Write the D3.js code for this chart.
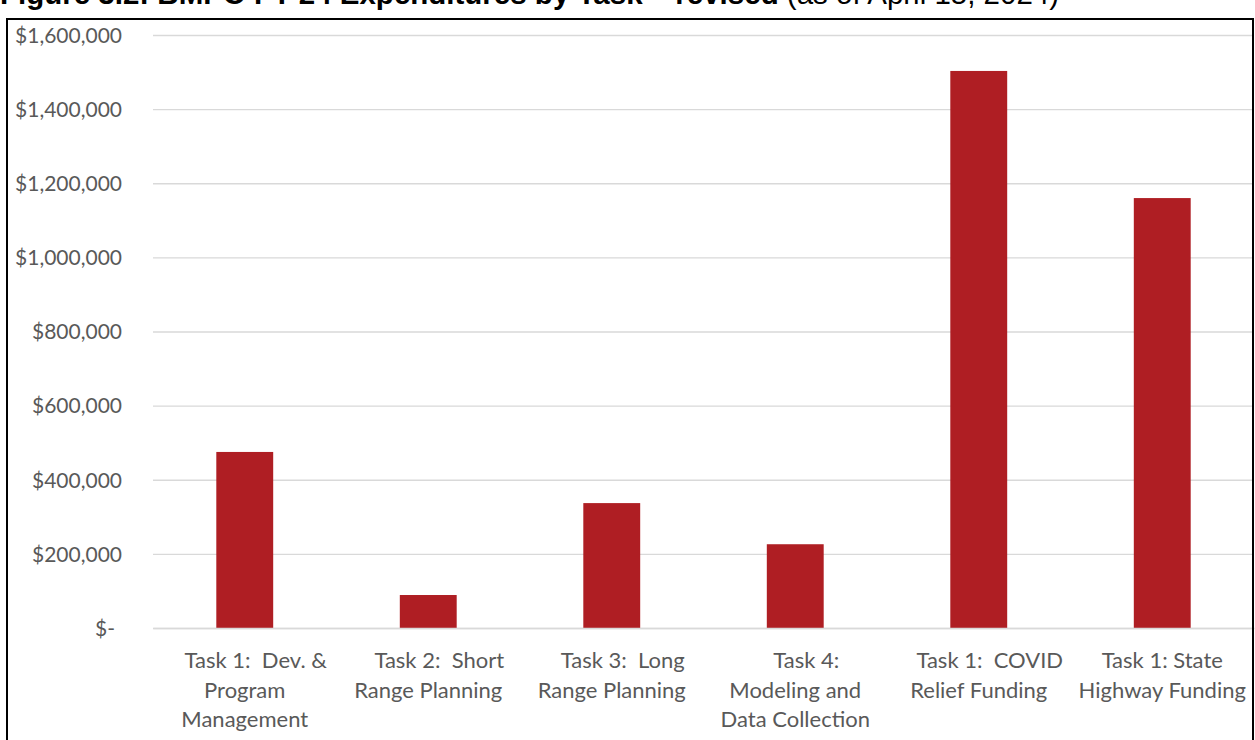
<!DOCTYPE html>
<html>
<head>
<meta charset="utf-8">
<script src="https://cdn.jsdelivr.net/npm/d3@7"></script>
<style>
  html, body { margin: 0; padding: 0; background: #fff; }
  svg { display: block; }
  text { white-space: pre; }
</style>
</head>
<body>
<svg id="chart" width="1255" height="740"></svg>
<script>
// Expenditures by task
const categories = [
  ["Task 1:  Dev. &", "Program", "Management"],
  ["Task 2:  Short", "Range Planning"],
  ["Task 3:  Long", "Range Planning"],
  ["Task 4:", "Modeling and", "Data Collection"],
  ["Task 1:  COVID", "Relief Funding"],
  ["Task 1: State", "Highway Funding"]
];
const expenditures = [475000, 89000, 337000, 226000, 1503000, 1160000];
const yTicks = [0, 200000, 400000, 600000, 800000, 1000000, 1200000, 1400000, 1600000];
const titleBold = "Figure 3.2: BMPO FY'24 Expenditures by Task \u2013 revised";
const titleNote = " (as of April 15, 2024)";

const svg = d3.select("#chart");
const plot = { left: 153, right: 1254, top: 35, bottom: 628 };

const keys = categories.map((c, i) => i);
const x = d3.scaleBand().domain(keys).range([plot.left, plot.right]).paddingInner(0.69).paddingOuter(0.345);
const y = d3.scaleLinear().domain([0, 1600000]).range([plot.bottom, plot.top]);

// Title (runs off the top edge of the page)
const title = svg.append("text")
  .attr("x", 0).attr("y", 4)
  .attr("font-family", "Liberation Sans, Arial, sans-serif")
  .attr("font-size", 29.5)
  .attr("fill", "#000");
title.append("tspan").attr("font-weight", "bold").text(titleBold);
title.append("tspan").text(titleNote);

// Gridlines
const grid = svg.append("g")
  .attr("transform", `translate(${plot.left},0)`)
  .call(d3.axisLeft(y).tickValues(yTicks).tickSize(-(plot.right - plot.left)).tickFormat(""));
grid.select(".domain").remove();
grid.selectAll(".tick line").attr("stroke", "#d9d9d9").attr("stroke-width", 1.3);

// Y axis labels (accounting style: zero shown as "$-")
const fmt = d3.format(",");
const yAxis = svg.append("g")
  .attr("transform", `translate(122,0)`)
  .call(d3.axisLeft(y).tickValues(yTicks).tickSize(0).tickPadding(0)
    .tickFormat(d => d === 0 ? "$-" : "$" + fmt(d)));
yAxis.select(".domain").remove();
yAxis.selectAll(".tick text")
  .attr("font-family", "Lato, Calibri, sans-serif")
  .attr("font-size", 21)
  .attr("fill", "#595959")
  .attr("dy", "0.35em")
  .attr("x", d => d === 0 ? -7 : 0);

// Bars
svg.append("g").selectAll("rect")
  .data(expenditures)
  .join("rect")
  .attr("x", (d, i) => x(i))
  .attr("width", x.bandwidth())
  .attr("y", d => y(d))
  .attr("height", d => y(0) - y(d))
  .attr("fill", "#AF1E23");

// X axis baseline
const xAxis = svg.append("g")
  .attr("transform", `translate(0,${plot.bottom})`)
  .call(d3.axisBottom(x).tickSize(0).tickFormat(""));
xAxis.select(".domain").attr("stroke", "#d9d9d9").attr("stroke-width", 1.3);

// Category labels (multi-line); wrapped first lines sit slightly right of centre
const labels = svg.append("g").selectAll("text")
  .data(categories)
  .join("text")
  .attr("text-anchor", "middle")
  .attr("font-family", "Lato, Calibri, sans-serif")
  .attr("font-size", 22)
  .attr("fill", "#595959")
  .attr("x", (d, i) => x(i) + x.bandwidth() / 2);
labels.each(function(lines, i) {
  const t = d3.select(this);
  const cx = x(i) + x.bandwidth() / 2;
  const hangs = lines[0].includes(":  ") || lines[0].endsWith(":");
  lines.forEach((ln, j) => {
    t.append("tspan")
      .attr("x", cx + (j === 0 && hangs ? 11 : 0))
      .attr("y", 668 + j * 29.5)
      .text(ln);
  });
});

// Chart frame
svg.append("rect")
  .attr("x", 7).attr("y", 19)
  .attr("width", 1246).attr("height", 740)
  .attr("fill", "none")
  .attr("stroke", "#000")
  .attr("stroke-width", 2);
</script>
</body>
</html>
